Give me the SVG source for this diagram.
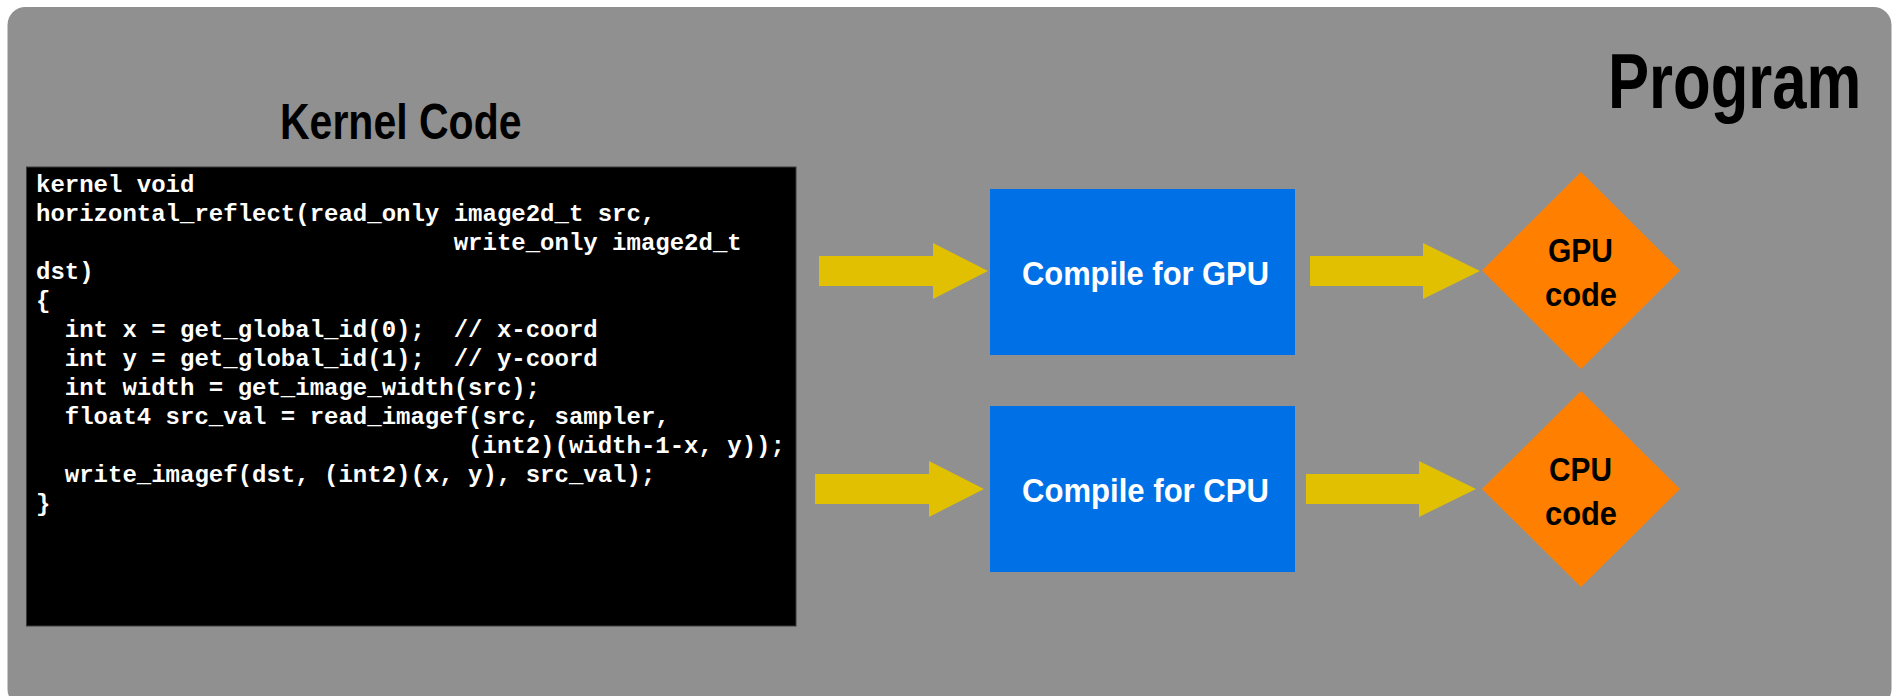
<svg xmlns="http://www.w3.org/2000/svg" width="1898" height="696" viewBox="0 0 1898 696">
<style>
.title{font-family:"Liberation Sans",Arial,sans-serif;font-weight:bold;fill:#000}
.code{font-family:"Liberation Mono","Courier New",monospace;font-weight:bold;font-size:24px;fill:#fff;white-space:pre}
.box{fill:#0070E6}
.boxtxt{font-family:"Liberation Sans",Arial,sans-serif;font-weight:bold;font-size:34px;fill:#fff}
.dia{fill:#FF8000}
.diatxt{font-family:"Liberation Sans",Arial,sans-serif;font-weight:bold;font-size:33px;fill:#000}
.arrow{fill:#E0C000}
</style>
<rect width="1898" height="696" fill="#ffffff"/>
<g id="program">
<rect x="7.5" y="7" width="1884" height="700" rx="18" ry="18" fill="#909090"/>
<text class="title" transform="translate(1608,108) scale(0.8,1)" x="0" y="0" font-size="77">Program</text>
</g>
<g id="kernel-code">
<text class="title" transform="translate(280,139) scale(0.82,1)" x="0" y="0" font-size="50">Kernel Code</text>
<rect x="26.5" y="167" width="769.5" height="459" fill="#000" stroke="#3a3a3a" stroke-width="1"/>
<g class="code" xml:space="preserve">
<text x="36" y="192" xml:space="preserve">kernel void</text>
<text x="36" y="221" xml:space="preserve">horizontal_reflect(read_only image2d_t src,</text>
<text x="36" y="250" xml:space="preserve">                             write_only image2d_t</text>
<text x="36" y="279" xml:space="preserve">dst)</text>
<text x="36" y="308" xml:space="preserve">{</text>
<text x="36" y="337" xml:space="preserve">  int x = get_global_id(0);  // x-coord</text>
<text x="36" y="366" xml:space="preserve">  int y = get_global_id(1);  // y-coord</text>
<text x="36" y="395" xml:space="preserve">  int width = get_image_width(src);</text>
<text x="36" y="424" xml:space="preserve">  float4 src_val = read_imagef(src, sampler,</text>
<text x="36" y="453" xml:space="preserve">                              (int2)(width-1-x, y));</text>
<text x="36" y="482" xml:space="preserve">  write_imagef(dst, (int2)(x, y), src_val);</text>
<text x="36" y="511" xml:space="preserve">}</text>
</g>
</g>
<g id="compile-gpu">
<rect class="box" x="990" y="189" width="305" height="166"/>
<text class="boxtxt" x="1022" y="285" textLength="247" lengthAdjust="spacingAndGlyphs">Compile for GPU</text>
</g>
<g id="compile-cpu">
<rect class="box" x="990" y="406" width="305" height="166"/>
<text class="boxtxt" x="1022" y="502" textLength="247" lengthAdjust="spacingAndGlyphs">Compile for CPU</text>
</g>
<g id="gpu-code">
<polygon class="dia" points="1581,172 1680,270.5 1581,369 1482,270.5"/>
<text class="diatxt" x="1548" y="262" textLength="65" lengthAdjust="spacingAndGlyphs">GPU</text>
<text class="diatxt" x="1545" y="306" textLength="72" lengthAdjust="spacingAndGlyphs">code</text>
</g>
<g id="cpu-code">
<polygon class="dia" points="1581,391 1680,489 1581,587 1482,489"/>
<text class="diatxt" x="1549" y="480.5" textLength="63" lengthAdjust="spacingAndGlyphs">CPU</text>
<text class="diatxt" x="1545" y="524.5" textLength="72" lengthAdjust="spacingAndGlyphs">code</text>
</g>
<g id="connectors">
<polygon class="arrow" points="819,256 933,256 933,243 988,271 933,299 933,286 819,286"/>
<polygon class="arrow" points="1310,256 1423,256 1423,243 1480,271 1423,299 1423,286 1310,286"/>
<polygon class="arrow" points="815,474 929,474 929,461 984,489 929,517 929,504 815,504"/>
<polygon class="arrow" points="1306,474 1419,474 1419,461 1476,489 1419,517 1419,504 1306,504"/>
</g>
</svg>
